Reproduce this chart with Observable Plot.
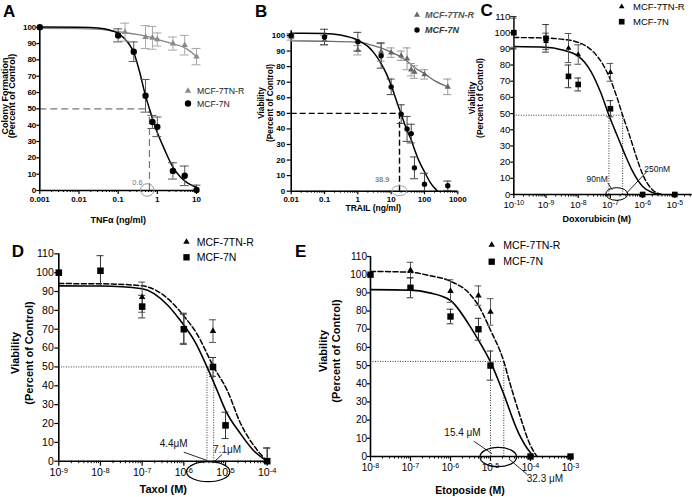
<!DOCTYPE html>
<html><head><meta charset="utf-8">
<script src="https://cdn.jsdelivr.net/npm/d3@7"></script>
<script src="https://cdn.jsdelivr.net/npm/@observablehq/plot@0.6"></script>
<style>
body{margin:0;background:#fff;}
#fig{position:relative;width:692px;height:497px;overflow:hidden;background:#fff;}
#fig svg{position:absolute;left:0;top:0;}
</style></head><body><div id="fig"></div>
<script>
// ================= DATA =================
const LEGEND_LABELS = ["MCF-7TN-R", "MCF-7N"];

// ---- Panel A: TNFα, colony formation ----
const A_conc_R = [0.001, 0.15, 0.5, 0.75, 1, 2.5, 5, 10];
const A_val_R  = [99.5, 97, 94, 93.5, 92.5, 90, 89, 82];
const A_err_R  = [0, 5.5, 7, 7, 4, 4, 6, 5];
const A_conc_N = [0.001, 0.1, 0.25, 0.5, 0.75, 1, 2.5, 5, 10];
const A_val_N  = [100, 95, 85, 58, 42, 39, 12, 9, 0.3];
const A_err_N  = [0, 4, 6, 10, 4, 6, 5, 6, 3];
const A_fitR_x = [0.001, 0.01, 0.05, 0.1, 0.3, 0.5, 1, 2.5, 5, 10];
const A_fitR_y = [99.3, 99.1, 98.3, 97.3, 95.6, 94.6, 92.5, 89.8, 87.5, 82];
const A_fitN_x = [0.001, 0.01, 0.03, 0.06, 0.1, 0.18, 0.25, 0.35, 0.5, 0.63, 0.8, 1, 1.5, 2.5, 4, 6, 10];
const A_fitN_y = [100.2, 100, 99.5, 98.3, 96.3, 90.5, 84.5, 73, 58, 50, 42, 35.5, 25.5, 14.3, 8, 4.5, 2];
const A_ticksX = [0.001, 0.01, 0.1, 1, 10];
const A_labelsX = ["0.001", "0.01", "0.1", "1", "10"];
const A_ticksY = [0, 10, 20, 30, 40, 50, 60, 70, 80, 90, 100];
const A_ic50 = 0.63, A_ic50Label = "0.6";

// ---- Panel B: TRAIL, viability ----
const B_conc = [0.01, 0.1, 1, 5, 10, 20, 30, 40, 50, 100, 500];
const B_val_R = [99, 97, 90.5, 89.5, 89, 87, 85, 78, 76.5, 75, 67];
const B_err_R = [2, 3, 3, 6, 3, 3, 7, 4, 4, 3, 5];
const B_val_N = [100, 99, 96, 87, 67, 49.5, 40, 37, 15, 4.5, 3.5];
const B_err_N = [1, 5, 6, 8, 5, 6, 8, 6, 7, 7, 3];
const B_fitR_x = [0.01, 0.1, 1, 2, 5, 10, 20, 30, 50, 100, 200, 500];
const B_fitR_y = [96.5, 96.3, 95.8, 94.5, 92, 89.3, 86, 83.5, 79.5, 75.5, 71, 67];
const B_fitN_x = [0.01, 0.1, 0.3, 1, 2, 3, 5, 7, 10, 15, 20, 30, 40, 50, 70, 100, 150, 200, 250];
const B_fitN_y = [101.5, 101.3, 100.3, 97, 93, 89, 82, 76, 68, 57, 49.5, 39, 33, 27, 19, 12.5, 5.5, 2, 0];
const B_ticksX = [0.01, 0.1, 1, 10, 100, 1000];
const B_labelsX = ["0.01", "0.1", "1", "10", "100", "1000"];
const B_ticksY = [0, 10, 20, 30, 40, 50, 60, 70, 80, 90, 100];
const B_ic50 = 17.8, B_ic50Label = "38.9";

// ---- Panel C: Doxorubicin ----
const C_conc_R = [1e-10, 1e-9, 5e-9, 1e-8, 1e-7];
const C_val_R  = [100, 94.7, 90.5, 86.5, 75.5];
const C_err_R  = [9, 5, 9, 6, 5.5];
const C_conc_N = [1e-10, 1e-9, 5e-9, 1e-8, 1e-7, 1e-6, 1e-5];
const C_val_N  = [100, 96.5, 73, 68, 53, 0, 0];
const C_err_N  = [10, 8.5, 7, 4, 5, 0, 0];
const C_fitR_x = [1e-10, 1e-9, 3e-9, 1e-8, 3e-8, 6e-8, 1e-7, 1.6e-7, 2.4e-7, 4e-7, 6e-7, 1e-6, 2e-6, 4e-6];
const C_fitR_y = [97, 96.7, 96, 94, 88, 80, 71, 60, 49, 36, 25, 12.5, 3, 0];
const C_fitN_x = [1e-10, 1e-9, 3e-9, 1e-8, 2.5e-8, 5e-8, 9e-8, 1.5e-7, 2e-7, 3e-7, 5e-7, 1e-6, 2e-6, 3.5e-6];
const C_fitN_y = [91.5, 91, 89.5, 85.5, 76, 63, 49, 38, 32, 23.5, 14, 5, 1.2, 0];
const C_ticksX = [1e-10, 1e-9, 1e-8, 1e-7, 1e-6, 1e-5];
const C_labelsX = ["10^-10", "10^-9", "10^-8", "10^-7", "10^-6", "10^-5"];
const C_ic50 = [9e-8, 2.4e-7], C_ic50Labels = ["90nM", "250nM"], C_half = 49;

// ---- Panel D: Taxol ----
const D_conc_R = [1e-7, 1e-6, 5e-6, 1e-4];
const D_val_R  = [87, 70.5, 69, 0];
const D_err_R  = [8, 8, 6, 7];
const D_conc_N = [1e-9, 1e-8, 1e-7, 1e-6, 5e-6, 1e-5, 1e-4];
const D_val_N  = [100, 101, 82, 70, 50, 19, 0];
const D_err_N  = [0, 8, 6, 8, 5, 7, 7];
const D_fitR_x = [1e-9, 1e-8, 1e-7, 4e-7, 1e-6, 2e-6, 5.2e-6, 1.1e-5, 2.3e-5, 5.7e-5, 1e-4];
const D_fitR_y = [94.2, 94.1, 93, 86.5, 77, 68, 50, 37.5, 20, 6, 0];
const D_fitN_x = [1e-9, 1e-8, 1e-7, 4e-7, 8e-7, 2e-6, 3.6e-6, 6.3e-6, 1e-5, 2.3e-5, 4.7e-5, 1e-4];
const D_fitN_y = [93, 92.9, 91.5, 83, 75, 62, 50, 37.5, 27, 14.5, 5.7, 0];
const D_ticksX = [1e-9, 1e-8, 1e-7, 1e-6, 1e-5, 1e-4];
const D_labelsX = ["10^-9", "10^-8", "10^-7", "10^-6", "10^-5", "10^-4"];
const D_ic50 = [3.6e-6, 5.2e-6], D_ic50Labels = ["4.4μM", "7.1μM"], D_half = 50;

// ---- Panel E: Etoposide ----
const E_conc_R = [1e-7, 1e-6, 5e-6, 1e-5];
const E_val_R  = [102.5, 91, 88.5, 79.5];
const E_err_R  = [4.3, 6.2, 5.3, 7.3];
const E_conc_N = [1e-8, 1e-7, 1e-6, 5e-6, 1e-5, 1e-4, 1e-3];
const E_val_N  = [100, 92.8, 77, 70, 50, 0, 0];
const E_err_N  = [0, 5.5, 4, 6, 8, 0, 0];
const E_fitR_x = [1e-8, 1e-7, 3e-7, 1e-6, 3e-6, 5e-6, 1e-5, 2.15e-5, 3e-5, 5e-5, 1e-4, 1.45e-4];
const E_fitR_y = [101.8, 101.3, 99.5, 96.4, 89.5, 83, 69.5, 52.3, 41, 25, 6, 0];
const E_fitN_x = [1e-8, 1e-7, 3e-7, 1e-6, 3e-6, 5e-6, 1e-5, 2e-5, 5e-5, 1e-4, 1.2e-4];
const E_fitN_y = [91.8, 91.5, 90, 85.8, 72, 64, 52, 36, 13, 2, 0];
const E_ticksX = [1e-8, 1e-7, 1e-6, 1e-5, 1e-4, 1e-3];
const E_labelsX = ["10^-8", "10^-7", "10^-6", "10^-5", "10^-4", "10^-3"];
const E_ic50 = [1e-5, 2.15e-5], E_ic50Labels = ["15.4 μM", "32.3 μM"], E_half = 52.3;

const Y110 = [0, 10, 20, 30, 40, 50, 60, 70, 80, 90, 100, 110];

// ================= HELPERS =================
const FONT = '"Liberation Sans", Arial, Helvetica, sans-serif';
const W = 692, H = 497;
const fig = d3.select("#fig");
const rows = (xs, ys, es) => xs.map((c, i) => ({c, v: ys[i], e: es ? es[i] : 0}));
function minorTicks(lo, hi) {
  const out = [];
  for (let e = Math.floor(Math.log10(lo)); e <= Math.ceil(Math.log10(hi)); e++)
    for (let m = 2; m <= 9; m++) { const v = m * Math.pow(10, e); if (v > lo * 1.0001 && v < hi) out.push(v); }
  return out;
}

function drawPanel(p) {
  const marks = [];
  const lab = new Map(p.ticksX.map((t, i) => [t, p.labelsX[i]]));
  if (p.guides) {
    const g = p.guides;
    marks.push(Plot.ruleY(g.h, {y: "y", x1: "x1", x2: "x2", stroke: g.stroke, strokeWidth: g.width, strokeDasharray: g.dash}));
    marks.push(Plot.ruleX(g.v, {x: "x", y1: 0, y2: "y", stroke: g.stroke, strokeWidth: g.width, strokeDasharray: g.dash}));
  }
  marks.push(Plot.axisX(minorTicks(p.xDomain[0], p.xDomain[1]), {tickSize: p.minorSize, tickFormat: () => "", label: null, strokeWidth: 1}));
  marks.push(Plot.axisX(p.ticksX, {tickSize: p.tickSizeX, tickPadding: p.padX, tickFormat: d => lab.get(d), label: null,
    fontSize: p.fontX, fontWeight: p.weight, strokeWidth: 1.2}));
  marks.push(Plot.axisY(p.ticksY, {tickSize: p.tickSizeY, tickPadding: p.padY, label: null,
    fontSize: p.fontY, fontWeight: p.weight, strokeWidth: 1.2}));
  marks.push(Plot.ruleX([p.xDomain[0]], {strokeWidth: 1.6}));
  marks.push(Plot.ruleY([0], {strokeWidth: 1.6}));
  for (const s of p.series) {
    marks.push(Plot.line(s.fit, {x: "c", y: "v", curve: "monotone-x", stroke: s.line, strokeWidth: s.lw, strokeDasharray: s.dash}));
  }
  for (const s of p.series) {
    const eb = s.pts.filter(d => d.e > 0);
    marks.push(Plot.ruleX(eb, {x: "c", y1: d => Math.max(0, d.v - d.e), y2: d => d.v + d.e, stroke: s.err, strokeWidth: 1}));
    marks.push(Plot.ruleY(eb, {x1: "c", x2: "c", y: d => d.v + d.e, stroke: s.err, strokeWidth: 1, insetLeft: -s.cap, insetRight: -s.cap}));
    marks.push(Plot.ruleY(eb.filter(d => d.v - d.e > 0), {x1: "c", x2: "c", y: d => d.v - d.e, stroke: s.err, strokeWidth: 1, insetLeft: -s.cap, insetRight: -s.cap}));
  }
  for (const s of p.series) {
    marks.push(Plot.dot(s.pts, {x: "c", y: "v", symbol: s.symbol, r: s.r, fill: s.fill}));
  }
  if (p.leaders) marks.push(Plot.link(p.leaders, {x1: "x1", y1: "y1", x2: "x2", y2: "y2", stroke: "#111", strokeWidth: 0.9}));
  if (p.texts) for (const t of p.texts)
    marks.push(Plot.text([t], {x: "x", y: "y", text: "t", fontSize: t.size, fill: t.fill || "#111", fontWeight: t.weight || "normal"}));

  const chart = Plot.plot({
    width: W, height: H,
    marginLeft: p.xRange[0], marginRight: W - p.xRange[1],
    marginTop: p.yRange[1], marginBottom: H - p.yRange[0],
    x: {type: "log", domain: p.xDomain, label: null},
    y: {domain: p.yDomain, label: null},
    style: {background: "transparent", overflow: "visible", fontFamily: FONT},
    marks
  });
  d3.select(chart).selectAll('g[aria-label="x-axis tick label"] text').each(function() {
    const t = this.textContent;
    if (!t.includes("^")) return;
    const [b, e] = t.split("^");
    const sel = d3.select(this);
    sel.text(null);
    sel.append("tspan").text(b);
    sel.append("tspan").attr("dy", "-0.38em").attr("font-size", "0.72em").text(e);
  });
  const sx = chart.scale("x"), sy = chart.scale("y");
  if (p.ellipses) for (const el of p.ellipses) {
    d3.select(chart).append("ellipse")
      .attr("cx", sx.apply(el.x)).attr("cy", sy.apply(0) + el.dy)
      .attr("rx", el.rx).attr("ry", el.ry)
      .attr("fill", "none").attr("stroke", el.stroke).attr("stroke-width", el.sw);
  }
  fig.node().appendChild(chart);
}

// ================= PANELS =================
drawPanel({
  xDomain: [0.001, 10], xRange: [39.3, 196], yDomain: [0, 101], yRange: [190, 25.1],
  ticksX: A_ticksX, labelsX: A_labelsX, ticksY: A_ticksY, weight: "bold",
  fontX: 8, fontY: 8, tickSizeX: 4, padX: 1.5, tickSizeY: 3, padY: 0.5, minorSize: 2,
  guides: {h: [{y: 50, x1: A_ticksX[0], x2: A_ic50}], v: [{x: A_ic50, y: 50}], stroke: "#777", width: 1.2, dash: "7,4"},
  series: [
    {pts: rows(A_conc_R, A_val_R, A_err_R), fit: rows(A_fitR_x, A_fitR_y), symbol: "triangle", r: 2.4, fill: "#8a8a8a", line: "#888", lw: 1.3, err: "#a8a8a8", cap: 4.5},
    {pts: rows(A_conc_N, A_val_N, A_err_N), fit: rows(A_fitN_x, A_fitN_y), symbol: "circle", r: 3.2, fill: "#000", line: "#000", lw: 1.5, err: "#555", cap: 4.5}
  ],
  texts: [{x: 0.31, y: 5, t: A_ic50Label, size: 7.5, fill: "#777"}],
  ellipses: [{x: 0.57, dy: 0, rx: 6.7, ry: 6.3, stroke: "#888", sw: 0.9}]
});

drawPanel({
  xDomain: [0.01, 1000], xRange: [290.7, 457.3], yDomain: [0, 103], yRange: [190.7, 30.3],
  ticksX: B_ticksX, labelsX: B_labelsX, ticksY: B_ticksY, weight: "bold",
  fontX: 8, fontY: 8, tickSizeX: 3.5, padX: 2, tickSizeY: 4, padY: 2, minorSize: 2,
  guides: {h: [{y: 50, x1: B_ticksX[0], x2: B_ic50}], v: [{x: B_ic50, y: 50}], stroke: "#000", width: 1.4, dash: "6,3"},
  series: [
    {pts: rows(B_conc, B_val_R, B_err_R), fit: rows(B_fitR_x, B_fitR_y), symbol: "triangle", r: 2.3, fill: "#666", line: "#6e6e6e", lw: 1.3, err: "#999", cap: 4},
    {pts: rows(B_conc, B_val_N, B_err_N), fit: rows(B_fitN_x, B_fitN_y), symbol: "circle", r: 2.7, fill: "#000", line: "#000", lw: 1.5, err: "#444", cap: 4}
  ],
  texts: [{x: 5.4, y: 7.5, t: B_ic50Label, size: 7.5, fill: "#888", weight: "bold"}],
  ellipses: [{x: 18.2, dy: 0, rx: 7.5, ry: 5, stroke: "#999", sw: 0.9}]
});

drawPanel({
  xDomain: [1e-10, Math.pow(10, -4.46)], xRange: [513.3, 691.7], yDomain: [0, 110], yRange: [194, 16],
  ticksX: C_ticksX, labelsX: C_labelsX, ticksY: Y110, weight: "normal",
  fontX: 9.5, fontY: 9.5, tickSizeX: 4, padX: 2.5, tickSizeY: 3, padY: 0.5, minorSize: 2.5,
  guides: {h: [{y: C_half, x1: C_ticksX[0], x2: C_ic50[1]}], v: C_ic50.map(x => ({x, y: C_half})), stroke: "#222", width: 0.9, dash: "1,1.5"},
  series: [
    {pts: rows(C_conc_R, C_val_R, C_err_R), fit: rows(C_fitR_x, C_fitR_y), symbol: "triangle", r: 2.1, fill: "#000", line: "#000", lw: 1.4, dash: "5,2.5", err: "#555", cap: 3.3},
    {pts: rows(C_conc_N, C_val_N, C_err_N), fit: rows(C_fitN_x, C_fitN_y), symbol: "square", r: 3.2, fill: "#000", line: "#000", lw: 1.5, err: "#333", cap: 3.3}
  ],
  leaders: [{x1: 8.3e-8, y1: 7.2, x2: 1.14e-7, y2: 2.9}, {x1: 3.16e-7, y1: 0.8, x2: 1.39e-6, y2: 14.4}],
  texts: [{x: 3.9e-8, y: 9.7, t: C_ic50Labels[0], size: 8.5}, {x: 2.84e-6, y: 15.3, t: C_ic50Labels[1], size: 8.5}],
  ellipses: [{x: 1.63e-7, dy: 0, rx: 11, ry: 6.3, stroke: "#000", sw: 1}]
});

drawPanel({
  xDomain: [1e-9, 1e-4], xRange: [58.3, 266.7], yDomain: [0, 110], yRange: [460.7, 253.3],
  ticksX: D_ticksX, labelsX: D_labelsX, ticksY: Y110, weight: "normal",
  fontX: 10.5, fontY: 10.5, tickSizeX: 5, padX: 2.5, tickSizeY: 4, padY: 1, minorSize: 2.5,
  guides: {h: [{y: D_half, x1: D_ticksX[0], x2: D_ic50[1]}], v: D_ic50.map(x => ({x, y: D_half})), stroke: "#222", width: 0.9, dash: "1,1.5"},
  series: [
    {pts: rows(D_conc_R, D_val_R, D_err_R), fit: rows(D_fitR_x, D_fitR_y), symbol: "triangle", r: 2.4, fill: "#000", line: "#000", lw: 1.5, dash: "5,2.5", err: "#555", cap: 3.5},
    {pts: rows(D_conc_N, D_val_N, D_err_N), fit: rows(D_fitN_x, D_fitN_y), symbol: "square", r: 3.7, fill: "#000", line: "#000", lw: 1.6, err: "#333", cap: 3.5}
  ],
  leaders: [{x1: 9.95e-7, y1: 4.8, x2: 3.6e-6, y2: 0.4}, {x1: 8.3e-6, y1: 3.6, x2: 5.2e-6, y2: -0.5}],
  texts: [{x: 5.7e-7, y: 9.2, t: D_ic50Labels[0], size: 10}, {x: 1.09e-5, y: 6.0, t: D_ic50Labels[1], size: 10}],
  ellipses: [{x: 3.95e-6, dy: 11, rx: 21.7, ry: 10, stroke: "#000", sw: 1.2}]
});

drawPanel({
  xDomain: [1e-8, 1e-3], xRange: [370, 570], yDomain: [0, 110], yRange: [456, 256],
  ticksX: E_ticksX, labelsX: E_labelsX, ticksY: Y110, weight: "normal",
  fontX: 10, fontY: 10, tickSizeX: 5, padX: 2.5, tickSizeY: 3, padY: 0.5, minorSize: 2.5,
  guides: {h: [{y: E_half, x1: E_ticksX[0], x2: E_ic50[1]}], v: E_ic50.map(x => ({x, y: E_half})), stroke: "#222", width: 0.9, dash: "1,1.5"},
  series: [
    {pts: rows(E_conc_R, E_val_R, E_err_R), fit: rows(E_fitR_x, E_fitR_y), symbol: "triangle", r: 2.4, fill: "#000", line: "#000", lw: 1.5, dash: "5,2.5", err: "#555", cap: 3.3},
    {pts: rows(E_conc_N, E_val_N, E_err_N), fit: rows(E_fitN_x, E_fitN_y), symbol: "square", r: 3.6, fill: "#000", line: "#000", lw: 1.6, err: "#333", cap: 3.3}
  ],
  leaders: [{x1: 3.83e-6, y1: 8.4, x2: 1.1e-5, y2: 1.5}, {x1: 2.87e-5, y1: -1.3, x2: 8.3e-5, y2: -9.9}],
  texts: [{x: 2.0e-6, y: 12.8, t: E_ic50Labels[0], size: 10}, {x: 2.3e-4, y: -12.3, t: E_ic50Labels[1], size: 10}],
  ellipses: [{x: 1.61e-5, dy: 1, rx: 18.3, ry: 9.7, stroke: "#000", sw: 1.2}]
});

// ================= TITLES, LETTERS, LEGENDS =================
const ov = fig.append("svg").attr("width", W).attr("height", H).attr("font-family", FONT);
function txt(x, y, s, size, opts = {}) {
  return ov.append("text").attr("x", x).attr("y", y).attr("font-size", size).attr("dy", "0.35em")
    .attr("text-anchor", opts.anchor || "start").attr("font-weight", opts.weight || "normal")
    .attr("font-style", opts.style || "normal").attr("fill", opts.fill || "#000").text(s);
}
function yTitle(lines, xs, cy, size) {
  lines.forEach((s, i) => ov.append("text").attr("transform", `translate(${xs[i]},${cy}) rotate(-90)`)
    .attr("text-anchor", "middle").attr("dy", "0.35em").attr("font-size", size).attr("font-weight", "bold").text(s));
}
function sym(type, x, y, area, fill) {
  ov.append("path").attr("d", d3.symbol(type, area)()).attr("transform", `translate(${x},${y})`).attr("fill", fill);
}
[["A", 3, 11], ["B", 255, 11], ["C", 480.5, 10.5], ["D", 11.7, 251], ["E", 295, 251]]
  .forEach(([s, x, y]) => txt(x, y, s, 17, {weight: "bold"}));
yTitle(["Colony Formation", "(Percent of Control)"], [4.8, 11.8], 96, 9);
txt(118.3, 220, "TNFα (ng/ml)", 9, {anchor: "middle", weight: "bold"});
yTitle(["Viability", "(Percent of Control)"], [261.5, 270], 103, 8.3);
txt(373.3, 208.5, "TRAIL (ng/ml)", 8.5, {anchor: "middle", weight: "bold"});
yTitle(["Viability", "(Percent of Control)"], [472.5, 480.5], 98, 8.5);
txt(596.7, 219.3, "Doxorubicin (M)", 9, {anchor: "middle", weight: "bold"});
yTitle(["Viability", "(Percent of Control)"], [15, 29.5], 353, 11);
txt(163.3, 489.3, "Taxol (M)", 11, {anchor: "middle", weight: "bold"});
yTitle(["Viability", "(Percent of Control)"], [323, 336], 351, 11);
txt(470, 490, "Etoposide (M)", 10.5, {anchor: "middle", weight: "bold"});
sym(d3.symbolTriangle, 188, 91, 18, "#8a8a8a"); txt(197, 91, LEGEND_LABELS[0], 8.7, {fill: "#222"});
sym(d3.symbolCircle, 188, 103.5, 32, "#000"); txt(197, 103.5, LEGEND_LABELS[1], 8.7, {fill: "#222"});
sym(d3.symbolTriangle, 417, 15, 16, "#666"); txt(425, 15, LEGEND_LABELS[0], 9, {weight: "bold", style: "italic", fill: "#555"});
sym(d3.symbolCircle, 417, 30, 23, "#000"); txt(425, 30, LEGEND_LABELS[1], 9, {weight: "bold", style: "italic", fill: "#333"});
sym(d3.symbolTriangle, 621.7, 6.7, 14, "#000"); txt(633, 6.7, LEGEND_LABELS[0], 9.5);
sym(d3.symbolSquare, 621.7, 21.7, 32, "#000"); txt(633, 21.7, LEGEND_LABELS[1], 9.5);
sym(d3.symbolTriangle, 186.5, 242, 18, "#000"); txt(196.7, 242, LEGEND_LABELS[0], 10.5);
sym(d3.symbolSquare, 186.5, 257.3, 40, "#000"); txt(196.7, 257.3, LEGEND_LABELS[1], 10.5);
sym(d3.symbolTriangle, 491.7, 245, 18, "#000"); txt(503.3, 245, LEGEND_LABELS[0], 10.5);
sym(d3.symbolSquare, 491.7, 261.7, 40, "#000"); txt(503.3, 261.7, LEGEND_LABELS[1], 10.5);
</script>
</body></html>
